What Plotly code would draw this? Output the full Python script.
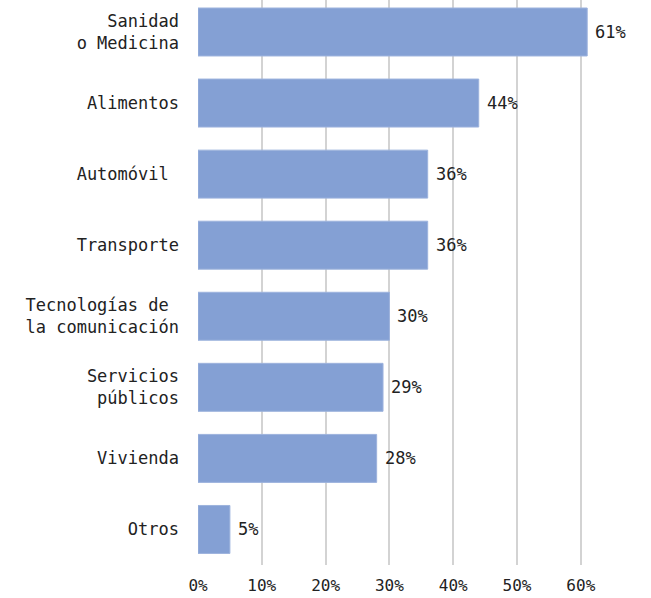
import plotly.graph_objects as go

categories = ["Sanidad<br>o Medicina", "Alimentos", "Automóvil\u00a0", "Transporte",
              "Tecnologías de\u00a0<br>la comunicación", "Servicios<br>públicos", "Vivienda", "Otros"]
values = [61, 44, 36, 36, 30, 29, 28, 5]
value_labels = ["61%", "44%", "36%", "36%", "30%", "29%", "28%", "5%"]
x_ticks = [0, 10, 20, 30, 40, 50, 60]
x_tick_labels = ["0%", "10%", "20%", "30%", "40%", "50%", "60%"]

cats_rev = categories[::-1]
vals_rev = values[::-1]
labels_rev = value_labels[::-1]

font_family = "DejaVu Sans Mono, Liberation Mono, monospace"

fig = go.Figure(go.Bar(
    x=vals_rev, y=cats_rev, orientation="h",
    marker=dict(color="#84a0d4", line=dict(color="#9db3dd", width=1)),
    hoverinfo="skip",
))

for v, c, t in zip(vals_rev, cats_rev, labels_rev):
    fig.add_annotation(x=v, y=c, text=t, showarrow=False, xanchor="left",
                       xshift=6, font=dict(family=font_family, size=17, color="#222222"))

fig.update_layout(
    width=651, height=598,
    margin=dict(l=198, r=0, t=0, b=33),
    paper_bgcolor="white", plot_bgcolor="white",
    bargap=0.325,
    showlegend=False,
    font=dict(family=font_family, color="#222222"),
    xaxis=dict(range=[0, 71], tickvals=x_ticks, ticktext=x_tick_labels,
               showgrid=True, gridcolor="#d3d3d3", gridwidth=1.5,
               zeroline=False, showline=False, ticks="",
               tickfont=dict(size=16, family=font_family, color="#222222"),
               ticklabelstandoff=9, fixedrange=True),
    yaxis=dict(range=[-0.5, 7.45], showgrid=False, zeroline=False, showline=False,
               ticks="", tickfont=dict(size=17, family=font_family, color="#222222"),
               ticklabelstandoff=18, fixedrange=True),
)

fig.write_html("out.html", config={"displayModeBar": False},
               post_script="document.body.style.margin='0';document.body.style.padding='0';")
